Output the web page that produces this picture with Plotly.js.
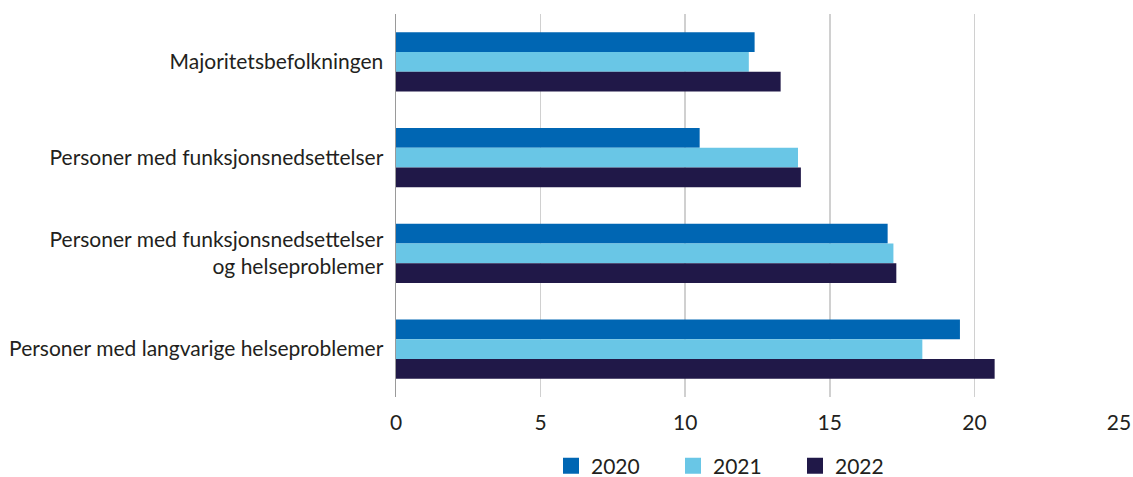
<!DOCTYPE html>
<html>
<head>
<meta charset="utf-8">
<script src="https://cdn.plot.ly/plotly-3.0.1.min.js"></script>
<style>
  html, body { margin: 0; padding: 0; background: #fff; }
  #chart { width: 1133px; height: 477px; }
</style>
</head>
<body>
<div id="chart"></div>
<script>
// Groups shown top to bottom
const categories = [
  "Majoritetsbefolkningen",
  "Personer med funksjonsnedsettelser",
  "Personer med funksjonsnedsettelser<br>og helseproblemer",
  "Personer med langvarige helseproblemer"
];

const years = ["2020", "2021", "2022"];

const values2020 = [12.4, 10.5, 17.0, 19.5];
const values2021 = [12.2, 13.9, 17.2, 18.2];
const values2022 = [13.3, 14.0, 17.3, 20.7];

const xTicks = [0, 5, 10, 15, 20, 25];

const colors = ["#0066b3", "#69c6e6", "#201848"];
const series = [values2020, values2021, values2022];

// Bars (legend handled by the square-marker entries below)
const barTraces = series.map((vals, i) => ({
  type: "bar",
  orientation: "h",
  name: years[i],
  x: vals,
  y: categories,
  marker: { color: colors[i], line: { width: 0 } },
  showlegend: false,
  hoverinfo: "x+name"
}));

// Legend entries with larger square swatches
const legendTraces = years.map((yr, i) => ({
  type: "scatter",
  mode: "markers",
  name: yr,
  x: [null],
  y: [null],
  marker: { symbol: "square", size: 16, color: colors[i] },
  showlegend: true,
  hoverinfo: "skip"
}));

const font = { family: "Lato, sans-serif", size: 21, color: "#231f20" };

const layout = {
  width: 1133,
  height: 477,
  margin: { l: 396, r: 14, t: 14, b: 80, autoexpand: false },
  paper_bgcolor: "#ffffff",
  plot_bgcolor: "#ffffff",
  font: font,
  barmode: "group",
  bargap: 0.38,
  bargroupgap: 0,
  showlegend: true,
  legend: {
    orientation: "h",
    xref: "container",
    yref: "container",
    x: 551 / 1133,
    xanchor: "left",
    y: 11 / 477,
    yanchor: "middle",
    entrywidth: 77,
    entrywidthmode: "pixels",
    itemsizing: "trace",
    font: font,
    traceorder: "normal"
  },
  xaxis: {
    range: [0, 25],
    tickvals: xTicks,
    ticktext: xTicks.map(String),
    showgrid: true,
    gridcolor: "#d0d0d0",
    gridwidth: 1.5,
    zeroline: false,
    showline: false,
    ticks: "",
    ticklabelstandoff: 11,
    tickfont: font,
    fixedrange: true
  },
  yaxis: {
    autorange: "reversed",
    showgrid: false,
    zeroline: false,
    showline: true,
    linecolor: "#9a9a9a",
    linewidth: 1.5,
    ticks: "",
    ticklabelstandoff: 7,
    tickfont: font,
    fixedrange: true
  }
};

Plotly.newPlot("chart", barTraces.concat(legendTraces), layout, { displayModeBar: false, staticPlot: true });
</script>
</body>
</html>
